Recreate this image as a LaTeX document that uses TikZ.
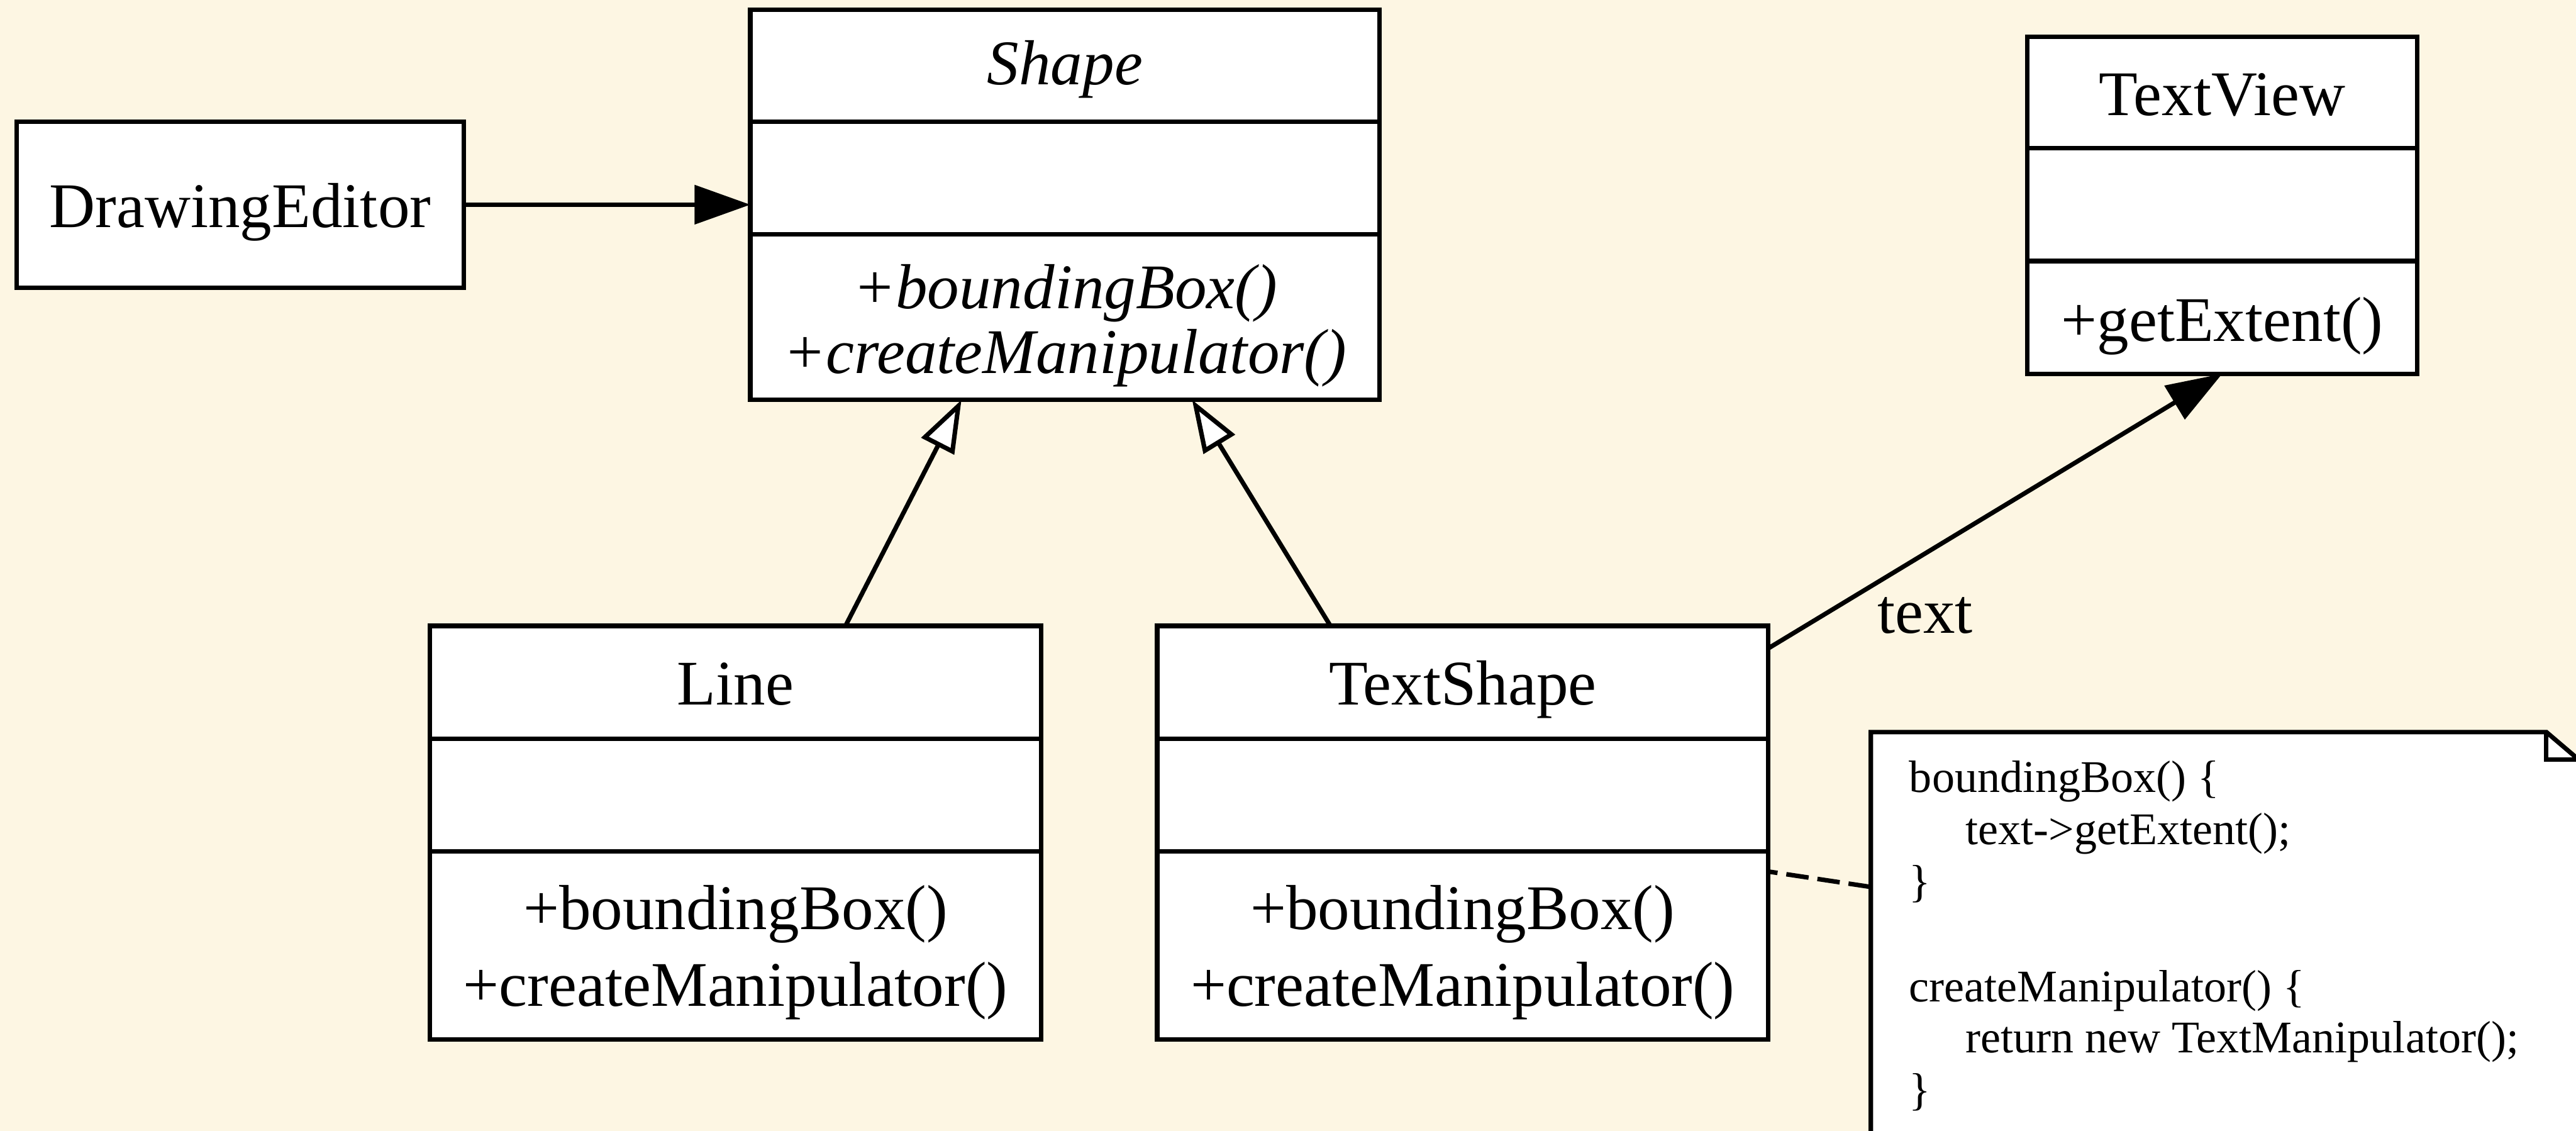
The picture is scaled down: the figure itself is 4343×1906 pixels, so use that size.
\documentclass[tikz,border=0pt]{standalone}
\usepackage{fontspec}
\setmainfont{Liberation Serif}
\usetikzlibrary{arrows.meta,calc}
\definecolor{paper}{HTML}{FDF6E3}

\begin{document}
\begin{tikzpicture}[x=0.25pt, y=-0.25pt,
  every node/.style={inner sep=0pt, outer sep=0pt},
  umlbox/.style={draw, fill=white, line width=1.9pt, rectangle},
  classfont/.style={font=\fontsize{26.8}{32}\selectfont},
  notefont/.style={font=\fontsize{19.1}{22}\selectfont},
  conn/.style={line width=1.9pt},
  navig/.style={conn, -{Triangle[length=23.5pt, width=16.25pt]}},
  inherit/.style={conn, -{Triangle[length=22pt, width=15.25pt, fill=white]}},
  anchorline/.style={conn, dash pattern=on 9.5pt off 3.75pt},
]
% canvas
\useasboundingbox (0,0) rectangle (4343,1906);
\clip (0,0) rectangle (4343,1906);
\fill[paper] (0,0) rectangle (4343,1906);

% DrawingEditor
\node[umlbox, minimum width=188.5pt, minimum height=70pt] (editor) at (405,345) {};
\node[classfont, anchor=base] (editor-name) at (405,383) {DrawingEditor};

% Shape (abstract)
\node[umlbox, minimum width=265.25pt, minimum height=164.5pt] (shapecls) at (1795.5,345) {};
\draw[conn] (shapecls.west |- 0,205) -- (shapecls.east |- 0,205);
\draw[conn] (shapecls.west |- 0,395) -- (shapecls.east |- 0,395);
\node[classfont, anchor=base] (shape-name) at (1795.5,143) {\itshape Shape};
\node[classfont, anchor=base] (shape-op1) at (1795.5,520) {\itshape +boundingBox()};
\node[classfont, anchor=base] (shape-op2) at (1795.5,629) {\itshape +createManipulator()};

% TextView
\node[umlbox, minimum width=164.25pt, minimum height=142pt] (textview) at (3746.5,346) {};
\draw[conn] (textview.west |- 0,250) -- (textview.east |- 0,250);
\draw[conn] (textview.west |- 0,440) -- (textview.east |- 0,440);
\node[classfont, anchor=base] (textview-name) at (3746.5,195) {TextView};
\node[classfont, anchor=base] (textview-op1) at (3746.5,575) {+getExtent()};

% Line
\node[umlbox, minimum width=257.5pt, minimum height=174.25pt] (line) at (1240,1403.5) {};
\draw[conn] (line.west |- 0,1245) -- (line.east |- 0,1245);
\draw[conn] (line.west |- 0,1435) -- (line.east |- 0,1435);
\node[classfont, anchor=base] (line-name) at (1240,1188) {Line};
\node[classfont, anchor=base] (line-op1) at (1240,1567) {+boundingBox()};
\node[classfont, anchor=base] (line-op2) at (1240,1696) {+createManipulator()};

% TextShape
\node[umlbox, minimum width=257.5pt, minimum height=174.25pt] (textshape) at (2466,1403.5) {};
\draw[conn] (textshape.west |- 0,1245) -- (textshape.east |- 0,1245);
\draw[conn] (textshape.west |- 0,1435) -- (textshape.east |- 0,1435);
\node[classfont, anchor=base] (textshape-name) at (2466,1188) {TextShape};
\node[classfont, anchor=base] (textshape-op1) at (2466,1567) {+boundingBox()};
\node[classfont, anchor=base] (textshape-op2) at (2466,1696) {+createManipulator()};

% Note with folded corner
\node[minimum width=298.25pt, minimum height=171.5pt] (note) at (3750.5,1577) {};
\filldraw[fill=white, line width=1.9pt, line join=miter]
  (note.south west) -- (note.north west) -- ($(note.north east)+(-54,0)$)
  -- ($(note.north east)+(0,46)$) -- (note.south east) -- cycle;
\draw[line width=1.9pt, line join=miter]
  ($(note.north east)+(-54,0)$) -- ($(note.north east)+(-54,46)$) -- ($(note.north east)+(0,46)$);
\node[notefont, anchor=base west] (note-l1) at (3219,1335) {boundingBox() \{};
\node[notefont, anchor=base west] (note-l2) at (3314,1423) {text->getExtent();};
\node[notefont, anchor=base west] (note-l3) at (3219,1511) {\}};
\node[notefont, anchor=base west] (note-l4) at (3219,1689) {createManipulator() \{};
\node[notefont, anchor=base west] (note-l5) at (3314,1774) {return new TextManipulator();};
\node[notefont, anchor=base west] (note-l6) at (3219,1862) {\}};

% Connectors
\draw[navig] (editor.east) -- (shapecls.west);
\draw[inherit] ($(line.north west)!0.68!(line.north east)$)
  -- ($(shapecls.south west)!0.3355!(shapecls.south east)$);
\draw[inherit] ($(textshape.north west)!0.2835!(textshape.north east)$)
  -- ($(shapecls.south west)!0.702!(shapecls.south east)$);
\draw[navig] ($(textshape.north east)!0.0545!(textshape.south east)$) -- (textview.south);
\node[classfont, anchor=base west] (assoc-label) at (3165,1067) {text};
\draw[anchorline] ($(note.north west)!0.3805!(note.south west)$)
  -- ($(textshape.north east)!0.594!(textshape.south east)$);
\end{tikzpicture}
\end{document}
